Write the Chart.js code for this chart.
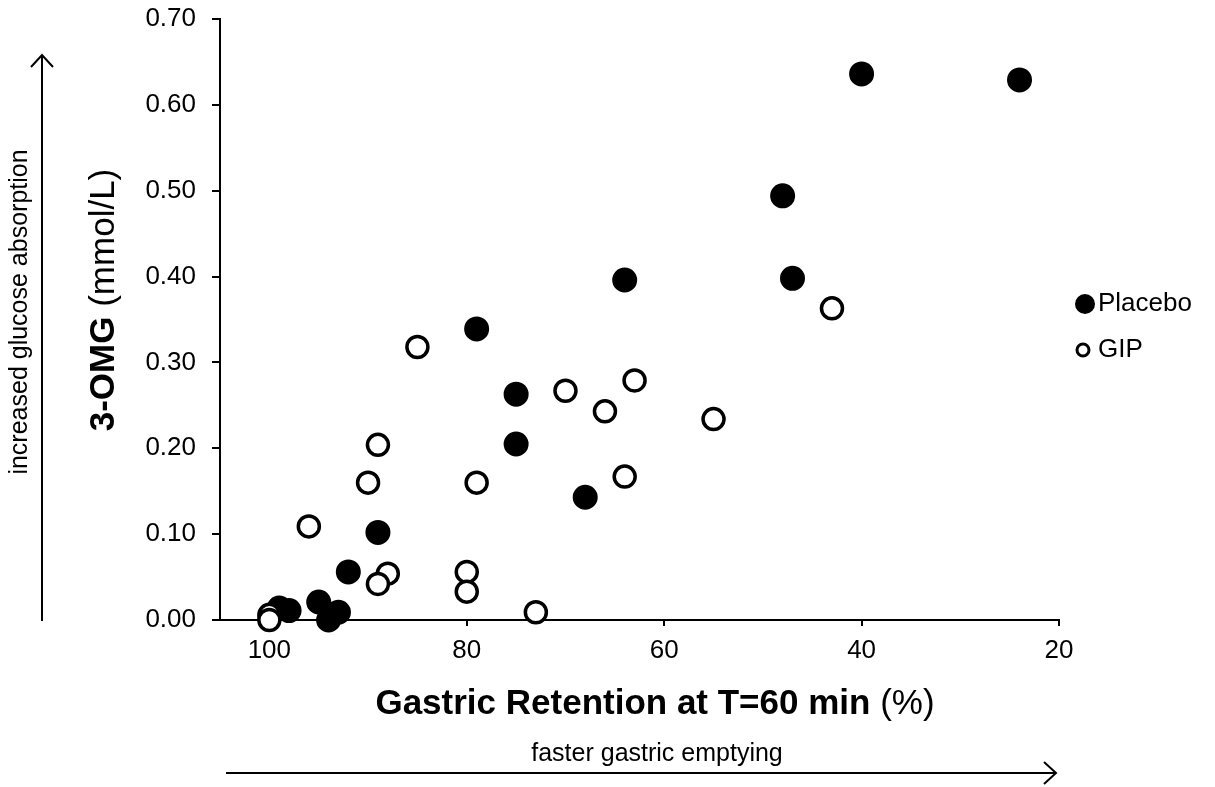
<!DOCTYPE html>
<html>
<head>
<meta charset="utf-8">
<script src="https://cdn.jsdelivr.net/npm/chart.js@4.4.0/dist/chart.umd.min.js"></script>
<style>
  html, body { margin: 0; padding: 0; background: #fff; }
  #wrap { width: 1215px; height: 787px; }
</style>
</head>
<body>
<div id="wrap"><canvas id="gipChart" width="1215" height="787"></canvas></div>
<script>
// ---- data ----
const placeboX = [40, 24, 48, 47, 64, 79, 75, 75, 68, 89, 92, 95, 93, 94, 99, 98];
const placeboY = [0.636, 0.629, 0.494, 0.398, 0.396, 0.339, 0.263, 0.205, 0.143, 0.102, 0.056, 0.021, 0.009, 0.000, 0.014, 0.011];
const gipX = [43, 85, 70, 63, 66, 55, 89, 90, 79, 64, 96, 88, 89, 80, 80, 73, 100, 100];
const gipY = [0.363, 0.318, 0.267, 0.279, 0.243, 0.234, 0.204, 0.160, 0.160, 0.167, 0.109, 0.054, 0.042, 0.056, 0.033, 0.009, 0.006, 0.000];
const xTicks = [100, 80, 60, 40, 20];
const yTicks = [0, 0.1, 0.2, 0.3, 0.4, 0.5, 0.6, 0.7];
const seriesNames = ['Placebo', 'GIP'];

const FONT = "'Liberation Sans', Arial, sans-serif";

function toPoints(xs, ys) {
  return xs.map((x, i) => ({ x: x, y: ys[i] }));
}

// bold part followed by a regular part, centred on (0,0)
function drawMixedTitle(ctx, boldText, normalText, size) {
  ctx.font = `bold ${size}px ${FONT}`;
  const wb = ctx.measureText(boldText).width;
  ctx.font = `${size}px ${FONT}`;
  const wn = ctx.measureText(normalText).width;
  const start = -(wb + wn) / 2;
  ctx.textAlign = 'left';
  ctx.textBaseline = 'middle';
  ctx.font = `bold ${size}px ${FONT}`;
  ctx.fillText(boldText, start, 0);
  ctx.font = `${size}px ${FONT}`;
  ctx.fillText(normalText, start + wb, 0);
}

// ===================== extras: titles, arrows, legend =====================
const extrasPlugin = {
  id: 'extras',
  afterDraw(chart) {
    const ctx = chart.ctx;
    ctx.save();
    ctx.fillStyle = '#000';
    ctx.strokeStyle = '#000';

    // axis titles
    ctx.save();
    ctx.translate(655, 704);
    drawMixedTitle(ctx, 'Gastric Retention at T=60 min ', '(%)', 35);
    ctx.restore();

    ctx.save();
    ctx.translate(104, 300);
    ctx.rotate(-Math.PI / 2);
    drawMixedTitle(ctx, '3-OMG', ' (mmol/L)', 35);
    ctx.restore();

    // side notes
    ctx.font = `25px ${FONT}`;
    ctx.textAlign = 'center';
    ctx.textBaseline = 'middle';
    ctx.fillText('faster gastric emptying', 657, 754);
    ctx.save();
    ctx.translate(20, 312);
    ctx.rotate(-Math.PI / 2);
    ctx.fillText('increased glucose absorption', 0, 0);
    ctx.restore();

    // arrows
    ctx.lineWidth = 2;
    ctx.beginPath();
    ctx.moveTo(42, 621); ctx.lineTo(42, 55);
    ctx.moveTo(31, 67); ctx.lineTo(42, 55); ctx.lineTo(53, 67);
    ctx.moveTo(226, 773); ctx.lineTo(1056, 773);
    ctx.moveTo(1044, 762); ctx.lineTo(1056, 773); ctx.lineTo(1044, 784);
    ctx.stroke();

    // legend
    ctx.font = `26px ${FONT}`;
    ctx.textAlign = 'left';
    ctx.beginPath();
    ctx.arc(1085, 304, 10, 0, Math.PI * 2);
    ctx.fill();
    ctx.fillText(seriesNames[0], 1098, 304);
    ctx.lineWidth = 3;
    ctx.beginPath();
    ctx.arc(1083, 350, 6, 0, Math.PI * 2);
    ctx.fillStyle = '#fff';
    ctx.fill();
    ctx.stroke();
    ctx.fillStyle = '#000';
    ctx.fillText(seriesNames[1], 1098, 350);

    ctx.restore();
  }
};

const axisLine = { display: true, color: '#000', width: 2 };
const tickMarks = (len) => ({ display: true, drawOnChartArea: false, drawTicks: true, tickLength: len, color: '#000', lineWidth: 2 });

const ctx = document.getElementById('gipChart').getContext('2d');
new Chart(ctx, {
  type: 'scatter',
  data: {
    datasets: [
      {
        label: seriesNames[0],
        data: toPoints(placeboX, placeboY),
        backgroundColor: '#000',
        borderColor: '#000',
        pointRadius: 11,
        borderWidth: 3,
        order: 2,
        clip: false
      },
      {
        label: seriesNames[1],
        data: toPoints(gipX, gipY),
        backgroundColor: '#fff',
        borderColor: '#000',
        pointRadius: 10.5,
        borderWidth: 3.5,
        order: 1,
        clip: false
      }
    ]
  },
  options: {
    responsive: false,
    animation: false,
    layout: { padding: { left: 0, top: 19, right: 156, bottom: 0 } },
    plugins: {
      legend: { display: false },
      tooltip: { enabled: false }
    },
    scales: {
      x: {
        type: 'linear',
        reverse: true,
        min: 20,
        max: 105,
        afterBuildTicks: s => { s.ticks = xTicks.map(v => ({ value: v })); },
        afterFit: s => { s.height = 167; },
        border: axisLine,
        grid: tickMarks(6),
        ticks: { color: '#000', font: { family: FONT, size: 26 }, padding: 9, maxRotation: 0 }
      },
      y: {
        min: 0,
        max: 0.7,
        afterBuildTicks: s => { s.ticks = yTicks.map(v => ({ value: v })); },
        afterFit: s => { s.width = 220; s.paddingTop = 0; s.paddingBottom = 0; },
        border: axisLine,
        grid: tickMarks(8),
        ticks: {
          color: '#000',
          font: { family: FONT, size: 26 },
          padding: 16,
          callback: v => v.toFixed(2)
        }
      }
    }
  },
  plugins: [extrasPlugin]
});
</script>
</body>
</html>
